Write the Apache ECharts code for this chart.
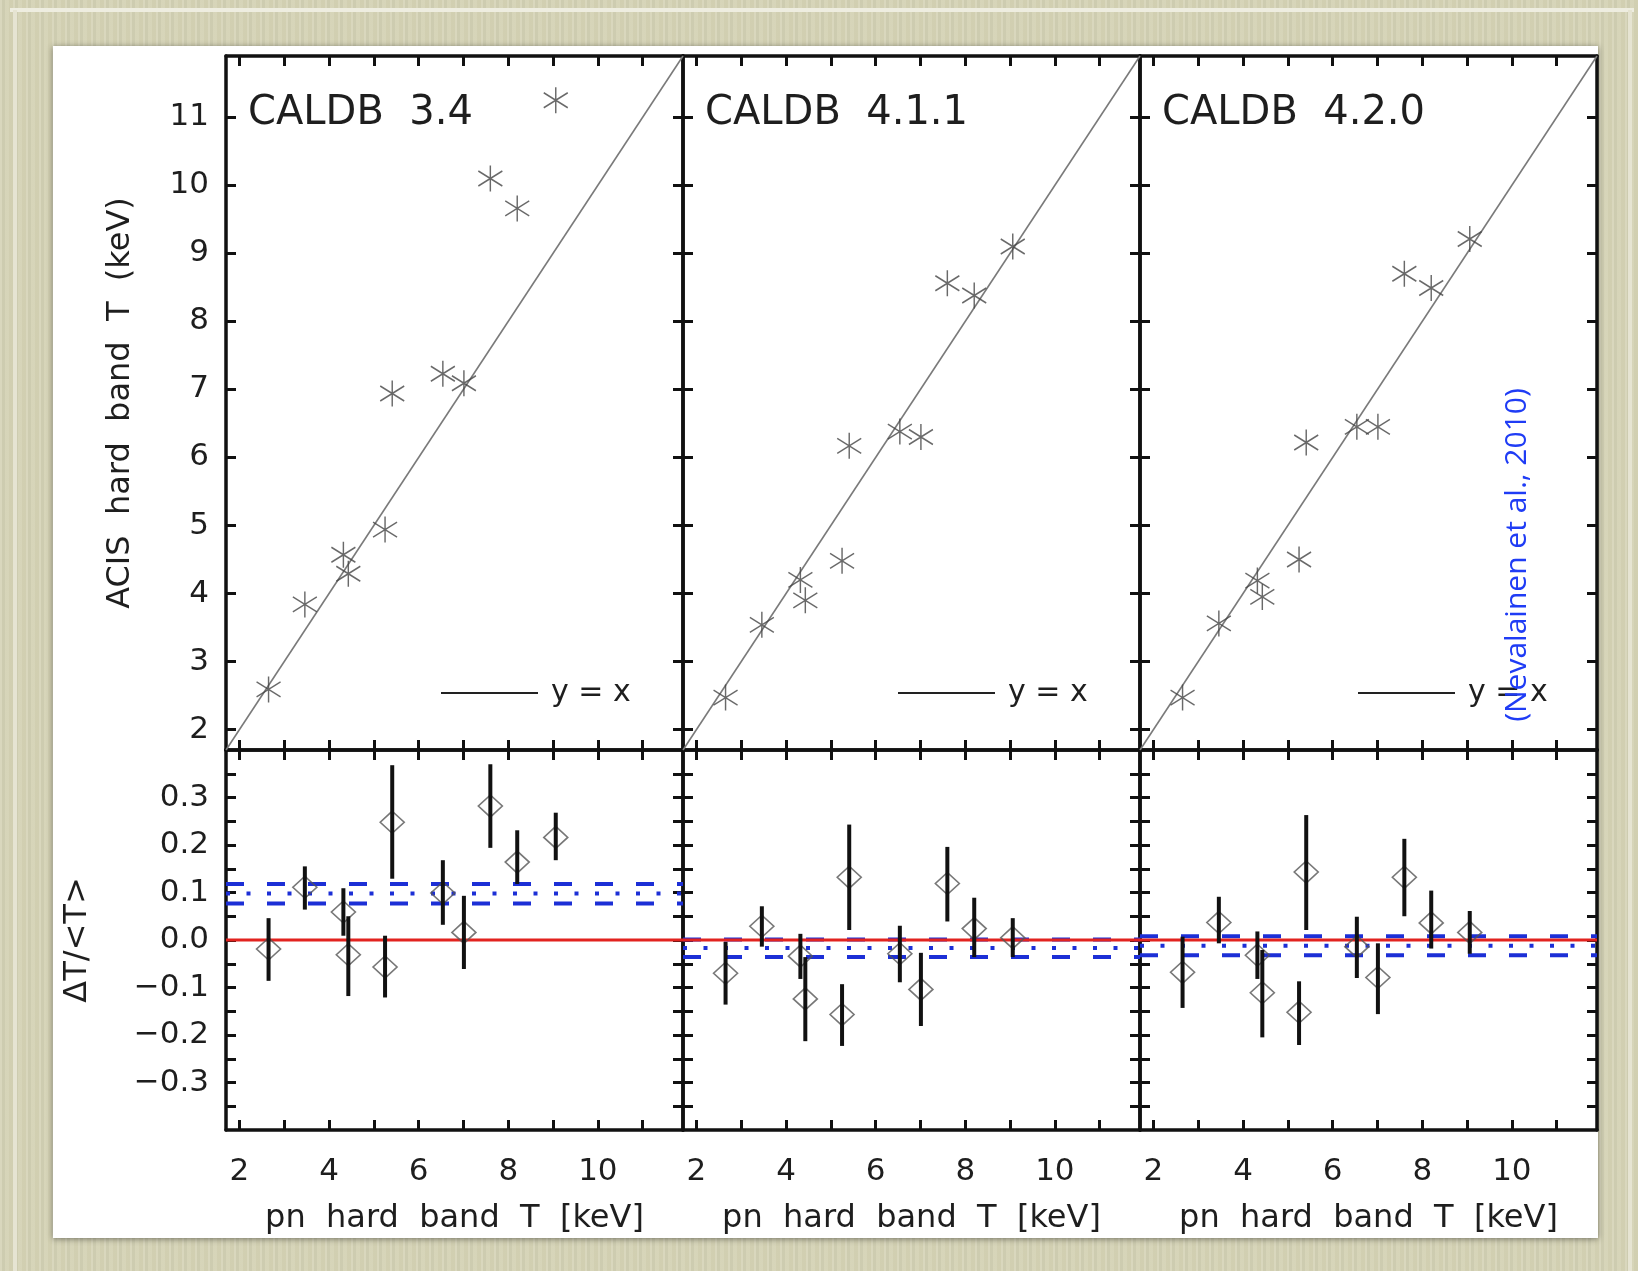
<!DOCTYPE html>
<html>
<head>
<meta charset="utf-8">
<script src="https://cdn.jsdelivr.net/npm/echarts@6/dist/echarts.min.js"></script>
<style>
html,body{margin:0;padding:0;}
body{width:1638px;height:1271px;overflow:hidden;background-color:#d5d3b6;
background-image:repeating-linear-gradient(90deg, rgba(255,255,255,0.10) 0px, rgba(255,255,255,0.10) 2px, rgba(0,0,0,0.035) 2px, rgba(0,0,0,0.035) 5px, rgba(255,255,255,0.04) 5px, rgba(255,255,255,0.04) 9px, rgba(120,110,60,0.04) 9px, rgba(120,110,60,0.04) 13px);}
#chart{width:1638px;height:1271px;}
</style>
</head>
<body>
<div id="chart"></div>
<script>
// ---------------- data ----------------
const panelNames = ['CALDB  3.4', 'CALDB  4.1.1', 'CALDB  4.2.0'];
const pnT = [2.65, 3.46, 4.32, 4.43, 5.25, 5.41, 6.54, 7.01, 7.60, 8.20, 9.06];

const acisT_34  = [2.59, 3.84, 4.57, 4.29, 4.94, 6.94, 7.23, 7.09, 10.10, 9.66, 11.25];
const acisT_411 = [2.47, 3.54, 4.20, 3.90, 4.48, 6.17, 6.38, 6.30, 8.56, 8.38, 9.10];
const acisT_420 = [2.47, 3.56, 4.19, 3.95, 4.50, 6.22, 6.45, 6.45, 8.70, 8.49, 9.21];

const dev_34    = [-0.019, 0.111, 0.059, -0.031, -0.057, 0.248, 0.099, 0.016, 0.282, 0.164, 0.216];
const devLo_34  = [-0.086, 0.064, 0.009, -0.118, -0.121, 0.129, 0.032, -0.061, 0.194, 0.118, 0.168];
const devHi_34  = [0.046, 0.155, 0.109, 0.050, 0.009, 0.368, 0.168, 0.093, 0.370, 0.231, 0.268];

const dev_411   = [-0.070, 0.029, -0.034, -0.124, -0.157, 0.132, -0.029, -0.104, 0.119, 0.024, 0.005];
const devLo_411 = [-0.136, -0.014, -0.082, -0.213, -0.223, 0.021, -0.089, -0.181, 0.039, -0.036, -0.036];
const devHi_411 = [-0.004, 0.071, 0.013, -0.036, -0.093, 0.243, 0.030, -0.027, 0.196, 0.089, 0.046];

const dev_420   = [-0.068, 0.037, -0.032, -0.111, -0.152, 0.143, -0.014, -0.079, 0.132, 0.036, 0.016];
const devLo_420 = [-0.143, -0.007, -0.082, -0.205, -0.221, 0.021, -0.080, -0.156, 0.050, -0.018, -0.029];
const devHi_420 = [0.007, 0.091, 0.018, -0.021, -0.087, 0.263, 0.049, -0.007, 0.213, 0.104, 0.061];

const bandMean = [0.098, -0.017, -0.012];
const bandHi   = [0.118, 0.001, 0.008];
const bandLo   = [0.077, -0.036, -0.032];

const xRange = [1.7, 11.9];
const yTopRange = [1.7, 11.9];
const yBotRange = [-0.4, 0.4];
const xTickValues = [2, 3, 4, 5, 6, 7, 8, 9, 10, 11];
const xLabelValues = [2, 4, 6, 8, 10];
const yTopTickValues = [2, 3, 4, 5, 6, 7, 8, 9, 10, 11];
const yBotTickValues = [-0.35, -0.3, -0.25, -0.2, -0.15, -0.1, -0.05, 0, 0.05, 0.1, 0.15, 0.2, 0.25, 0.3, 0.35];
const yBotLabelValues = [-0.3, -0.2, -0.1, 0, 0.1, 0.2, 0.3];

const acisT = [acisT_34, acisT_411, acisT_420];
const devs = [dev_34, dev_411, dev_420];
const devLos = [devLo_34, devLo_411, devLo_420];
const devHis = [devHi_34, devHi_411, devHi_420];

// ---------------- layout / style ----------------
const FONT = 'DejaVu Sans';
const TXT = '#1e1e1e';
const LEFTS = [226, 683, 1140], W = 457, TOP = 56, MID = 750, BOT = 1130;

const grids = [], xAxes = [], yAxes = [], series = [];
for (let g = 0; g < 6; g++) {
  const col = g % 3, isTop = g < 3;
  grids.push({left: LEFTS[col], top: isTop ? TOP : MID, width: W, height: isTop ? MID - TOP : BOT - MID,
              containLabel: false, outerBoundsMode: 'none'});
  const lineStyle = {color: '#111', width: 3.5};
  const tickStyle = {color: '#111', width: 3};
  const yr = isTop ? yTopRange : yBotRange;
  const yTicks = isTop ? yTopTickValues : yBotTickValues;
  xAxes.push({
    type: 'value', gridIndex: g, position: 'bottom', min: xRange[0], max: xRange[1],
    axisLine: {show: true, onZero: false, lineStyle},
    axisTick: {show: true, inside: true, length: 10, lineStyle: tickStyle, customValues: xTickValues},
    axisLabel: {show: !isTop, customValues: xLabelValues, fontSize: 31, fontFamily: FONT, color: TXT, margin: 26},
    splitLine: {show: false},
    name: isTop ? '' : 'pn  hard  band  T  [keV]', nameLocation: 'middle', nameGap: 73,
    nameTextStyle: {fontSize: 32, fontFamily: FONT, color: TXT}
  });
  xAxes.push({
    type: 'value', gridIndex: g, position: 'top', min: xRange[0], max: xRange[1],
    axisLine: {show: true, onZero: false, lineStyle},
    axisTick: {show: true, inside: true, length: 10, lineStyle: tickStyle, customValues: xTickValues},
    axisLabel: {show: false}, splitLine: {show: false}
  });
  const showYLabel = col === 0;
  yAxes.push({
    type: 'value', gridIndex: g, position: 'left', min: yr[0], max: yr[1],
    axisLine: {show: true, onZero: false, lineStyle},
    axisTick: {show: true, inside: true, length: 10, lineStyle: tickStyle, customValues: yTicks},
    axisLabel: {show: showYLabel, customValues: isTop ? yTopTickValues : yBotLabelValues,
      fontSize: 31, fontFamily: FONT, color: TXT, margin: 17,
      formatter: isTop ? (v => String(v)) : (v => { const s = Math.abs(v).toFixed(1); return v < -1e-9 ? '\u2212' + s : s; })},
    splitLine: {show: false},
    name: showYLabel ? (isTop ? 'ACIS  hard  band  T  (keV)' : '\u0394T/<T>') : '',
    nameLocation: 'middle', nameGap: isTop ? 89 : 132, nameRotate: 90,
    nameTextStyle: {fontSize: 32, fontFamily: FONT, color: TXT}
  });
  yAxes.push({
    type: 'value', gridIndex: g, position: 'right', min: yr[0], max: yr[1],
    axisLine: {show: true, onZero: false, lineStyle},
    axisTick: {show: true, inside: true, length: 10, lineStyle: tickStyle, customValues: yTicks},
    axisLabel: {show: false}, splitLine: {show: false}
  });
}

const asteriskPath = 'path://M0,-13L0,13M-11,-7.5L11,7.5M-11,7.5L11,-7.5';

for (let i = 0; i < 3; i++) {
  const gt = i, gb = 3 + i;
  series.push({
    type: 'line', name: 'y = x', xAxisIndex: 2 * gt, yAxisIndex: 2 * gt,
    data: [[xRange[0], yTopRange[0]], [xRange[1], yTopRange[1]]],
    symbol: 'none', lineStyle: {color: '#7a7a7a', width: 1.6}, itemStyle: {color: '#222'},
    silent: true, z: 2, animation: false
  });
  series.push({
    type: 'scatter', xAxisIndex: 2 * gt, yAxisIndex: 2 * gt,
    data: pnT.map((x, k) => [x, acisT[i][k]]),
    symbol: asteriskPath, symbolSize: [24, 26],
    itemStyle: {color: 'rgba(0,0,0,0)', borderColor: '#444', borderWidth: 1.5},
    z: 3, animation: false
  });
  const dashStyle = {color: '#1c2fd6', width: 4, type: [18, 23]};
  series.push({
    type: 'line', xAxisIndex: 2 * gb, yAxisIndex: 2 * gb, symbol: 'none', silent: true, animation: false, z: 2,
    data: [[xRange[0], bandHi[i]], [xRange[1], bandHi[i]]], lineStyle: dashStyle
  });
  series.push({
    type: 'line', xAxisIndex: 2 * gb, yAxisIndex: 2 * gb, symbol: 'none', silent: true, animation: false, z: 2,
    data: [[xRange[0], bandLo[i]], [xRange[1], bandLo[i]]], lineStyle: dashStyle
  });
  series.push({
    type: 'line', xAxisIndex: 2 * gb, yAxisIndex: 2 * gb, symbol: 'none', silent: true, animation: false, z: 2,
    data: [[xRange[0], bandMean[i]], [xRange[1], bandMean[i]]],
    lineStyle: {color: '#1c2fd6', width: 4, type: [4, 16.5]}
  });
  series.push({
    type: 'line', xAxisIndex: 2 * gb, yAxisIndex: 2 * gb, symbol: 'none', silent: true, animation: false, z: 3,
    data: [[xRange[0], 0], [xRange[1], 0]], lineStyle: {color: '#e2231f', width: 3.2}
  });
  series.push({
    type: 'scatter', xAxisIndex: 2 * gb, yAxisIndex: 2 * gb,
    data: pnT.map((x, k) => [x, devs[i][k]]),
    symbol: 'diamond', symbolSize: [24, 22],
    itemStyle: {color: 'rgba(0,0,0,0)', borderColor: '#555', borderWidth: 1.6},
    z: 4, animation: false
  });
  series.push({
    type: 'custom', xAxisIndex: 2 * gb, yAxisIndex: 2 * gb, animation: false, z: 5,
    data: pnT.map((x, k) => [x, devs[i][k], devLos[i][k], devHis[i][k]]),
    encode: {x: 0, y: [1, 2, 3]},
    renderItem: function (params, api) {
      const p1 = api.coord([api.value(0), api.value(3)]);
      const p2 = api.coord([api.value(0), api.value(2)]);
      return {type: 'line', shape: {x1: p1[0], y1: p1[1], x2: p2[0], y2: p2[1]},
              style: {stroke: '#111', lineWidth: 4}};
    }
  });
}

const legendLefts = [441, 898, 1358];
const legends = legendLefts.map(l => ({
  data: ['y = x'], left: l, top: 678, icon: 'rect', itemWidth: 97, itemHeight: 2, padding: 0,
  selectedMode: false, itemStyle: {color: '#222'},
  textStyle: {fontSize: 30, fontFamily: FONT, color: TXT, padding: [0, 0, 0, 8]}
}));

const titles = panelNames.map((t, i) => ({
  text: t, left: LEFTS[i] + 22, top: 94, padding: 0,
  textStyle: {fontSize: 40, fontWeight: 'normal', fontFamily: FONT, color: TXT}
}));

const option = {
  animation: false,
  backgroundColor: 'transparent',
  title: titles,
  legend: legends,
  grid: grids,
  xAxis: xAxes,
  yAxis: yAxes,
  series: series,
  graphic: {
    elements: [
      {type: 'line', z: -20, silent: true, shape: {x1: 10, y1: 10, x2: 1634, y2: 10}, style: {stroke: '#eeede0', lineWidth: 4}},
      {type: 'line', z: -20, silent: true, shape: {x1: 15, y1: 10, x2: 15, y2: 1271}, style: {stroke: '#e6e4d2', lineWidth: 4}},
      {type: 'line', z: -20, silent: true, shape: {x1: 1630, y1: 10, x2: 1630, y2: 1271}, style: {stroke: '#e6e4d2', lineWidth: 4}},
      {type: 'rect', z: -10, silent: true, shape: {x: 53, y: 46, width: 1545, height: 1192},
       style: {fill: '#ffffff', shadowBlur: 6, shadowColor: 'rgba(0,0,0,0.45)', shadowOffsetY: 1}},
      {type: 'text', z: 100, silent: true, x: 1517, y: 555, rotation: Math.PI / 2,
       style: {text: '(Nevalainen et al., 2010)', fill: '#1f3cf5', font: '30px "Open Sans"', align: 'center', verticalAlign: 'middle'}}
    ]
  }
};

const chart = echarts.init(document.getElementById('chart'), null, {renderer: 'canvas'});
chart.setOption(option);
</script>
</body>
</html>
